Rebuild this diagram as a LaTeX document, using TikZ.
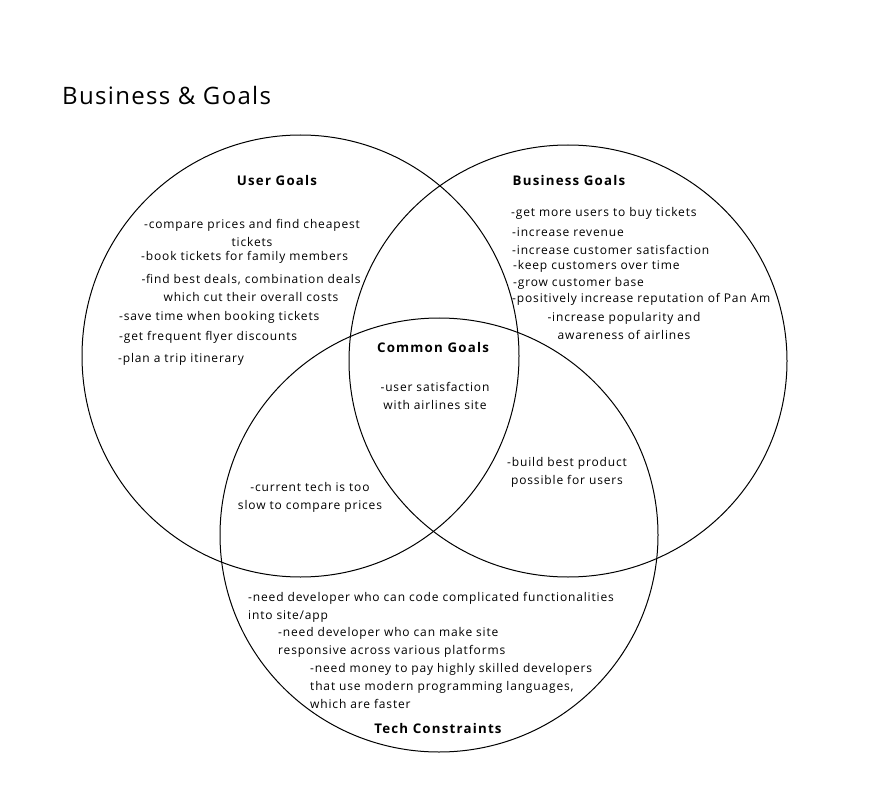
\documentclass[tikz,border=0pt]{standalone}
\usepackage{fontspec}
\setmainfont{Open Sans}[LetterSpace=7]
\begin{document}
\begin{tikzpicture}[x=1pt,y=-1pt,
  ring/.style={draw=black,line width=1pt},
  txt/.style={inner sep=0pt,yshift=-1.5pt,font=\fontsize{12}{18}\selectfont},
  lt/.style={txt,anchor=west,align=left},
  ct/.style={txt,anchor=center,align=center},
  head/.style={inner sep=0pt,anchor=center,font=\fontsize{13.3}{16}\selectfont\bfseries\addfontfeatures{LetterSpace=9}},
  ttl/.style={inner sep=0pt,anchor=west,font=\fontsize{24}{28}\selectfont\addfontfeatures{LetterSpace=5.5}}]
\fill[white] (0,0) rectangle (896,799);
\useasboundingbox (0,0) rectangle (896,799);
% circles
\draw[ring] (300.5,356) ellipse [x radius=218.5pt, y radius=221pt];
\draw[ring] (568,361) ellipse [x radius=219pt, y radius=216pt];
\draw[ring] (439,535) ellipse [x radius=219pt, y radius=217pt];
% title
\node[ttl] (title) at (62,96) {Business \& Goals};
% headings
\node[head] (hu) at (277,181) {User Goals};
\node[head] (hb) at (569,181) {Business Goals};
\node[head] (hc) at (433,348) {Common Goals};
\node[head] (ht) at (438,729) {Tech Constraints};
% user goals
\node[ct] (u1) at (252,231.5) {-compare prices and find cheapest\\tickets};
\node[lt] (u2) at (141,256) {-book tickets for family members};
\node[ct] (u3) at (251,286.5) {-find best deals, combination deals\\which cut their overall costs};
\node[lt] (u4) at (119,316) {-save time when booking tickets};
\node[lt] (u5) at (119,336) {-get frequent flyer discounts};
\node[lt] (u6) at (118,358) {-plan a trip itinerary};
% business goals
\node[lt] (b1) at (511,212) {-get more users to buy tickets};
\node[lt] (b2) at (512,231) {-increase revenue};
\node[lt] (b3) at (512,248) {-increase customer satisfaction};
\node[lt] (b4) at (513,265) {-keep customers over time};
\node[lt] (b5) at (513,282) {-grow customer base};
\node[lt] (b6) at (512,298) {-positively increase reputation of Pan Am};
\node[ct] (b7) at (624,324) {-increase popularity and\\awareness of airlines};
% common
\node[ct] (c1) at (435,394) {-user satisfaction\\with airlines site};
\node[ct] (c2) at (567,470.5) {-build best product\\possible for users};
\node[ct] (c3) at (310,495.5) {-current tech is too\\slow to compare prices};
% tech
\node[lt] (t1) at (248,606) {-need developer who can code complicated functionalities\\into site/app};
\node[lt] (t2) at (278,641) {-need developer who can make site\\responsive across various platforms};
\node[lt] (t3) at (310,684) {-need money to pay highly skilled developers\\that use modern programming languages,\\which are faster};
\end{tikzpicture}
\end{document}
